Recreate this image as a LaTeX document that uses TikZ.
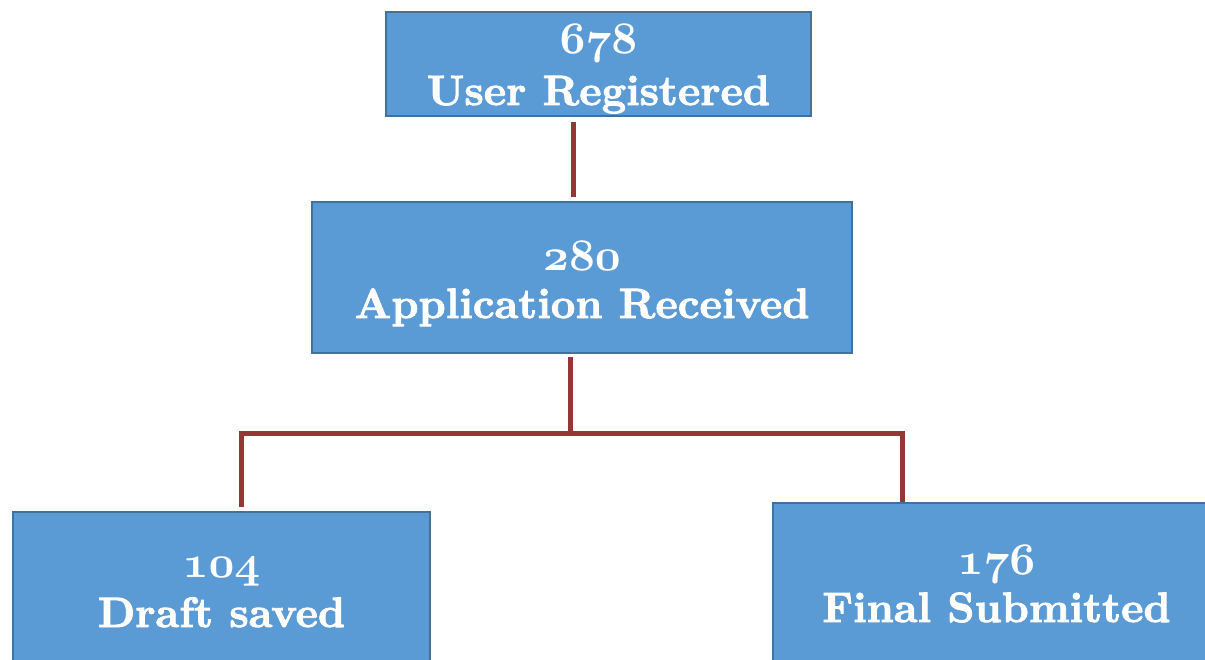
\documentclass[tikz,border=0pt]{standalone}
\usepackage{fontspec}
\setmainfont{lmroman10-regular.otf}[BoldFont=lmroman10-bold.otf, BoldFeatures={FakeBold=2}]
\definecolor{boxfill}{RGB}{91,155,213}
\definecolor{boxline}{RGB}{65,113,156}
\definecolor{connred}{RGB}{149,55,53}
\newcommand\bignum[1]{\scalebox{4.5}{\usefont{OML}{cmm}{b}{it}\fontsize{10}{12}\selectfont #1}}
\begin{document}
\begin{tikzpicture}[x=1pt,y=-1pt,
  box/.style={draw=boxline, line width=1.8pt, fill=boxfill, inner sep=0pt},
  conn/.style={draw=connred, line width=5pt},
  lbl/.style={text=white, font=\fontsize{42.5}{52}\selectfont\bfseries, anchor=base, inner sep=0pt}]
\useasboundingbox (0,0) rectangle (1205,659);
\clip (0,0) rectangle (1205,659);
% boxes
\node[box, minimum width=425pt, minimum height=104pt] (b1) at (598.5,64) {};
\node[box, minimum width=540pt, minimum height=151pt] (b2) at (582,277.5) {};
\node[box, minimum width=417pt, minimum height=158pt] (b3) at (221.5,591) {};
\node[box, minimum width=447pt, minimum height=162pt] (b4) at (996.5,584) {};
% labels
\node[lbl] (n1) at (598.5,53) {\bignum{678}};
\node[lbl] (t1) at (598.5,105) {User Registered};
\node[lbl] (n2) at (582,270) {\bignum{280}};
\node[lbl] (t2) at (582,318) {Application Received};
\node[lbl] (n3) at (221.5,577) {\bignum{104}};
\node[lbl] (t3) at (221.5,627) {Draft saved};
\node[lbl] (n4) at (996.5,574) {\bignum{176}};
\node[lbl] (t4) at (996.5,622) {Final Submitted};
% connectors
\coordinate (j1) at (573,0);
\coordinate (mid) at (570,433);
\coordinate (lft) at (241,433);
\coordinate (rgt) at (902,433);
\draw[conn, shorten <=5pt, shorten >=4pt] (b1.south -| j1) -- (b2.north -| j1);
\draw[conn, shorten <=3pt] (b2.south -| mid) -- (mid);
\draw[conn, shorten <=4pt] (b3.north -| lft) -- (lft) -- (rgt) -- (b4.north -| rgt);
\end{tikzpicture}
\end{document}
